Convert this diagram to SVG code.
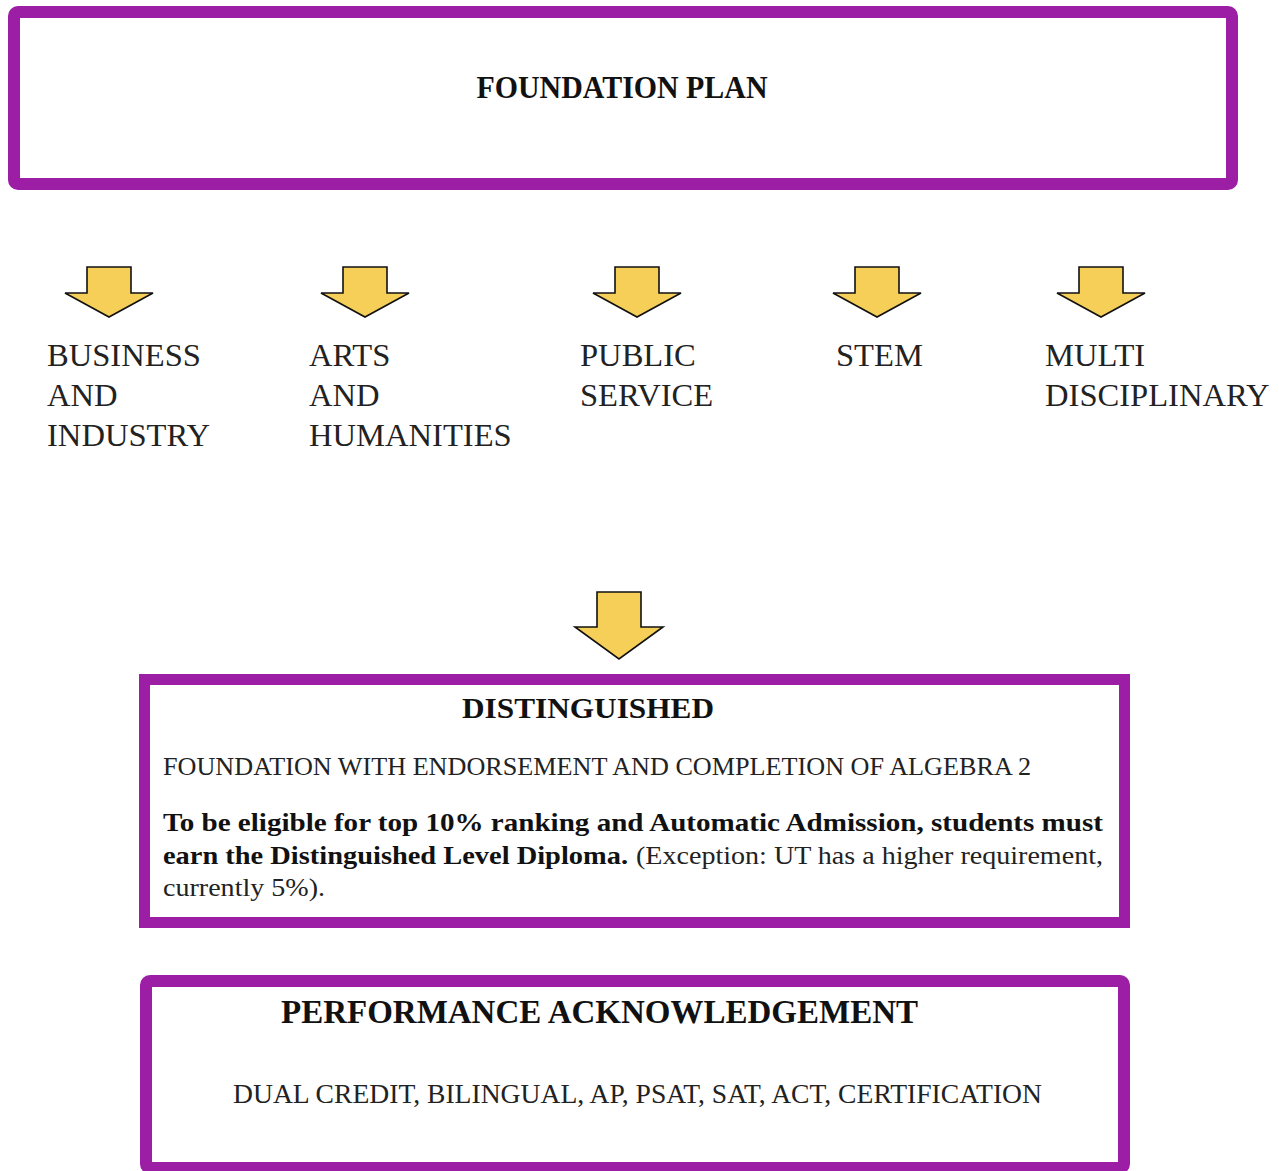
<svg xmlns="http://www.w3.org/2000/svg" width="1279" height="1171" viewBox="0 0 1279 1171">
<defs>
<style>
.box{fill:#fff;stroke:#9c1ea5;}
.arr{fill:#f5cf58;stroke:#111;stroke-width:1.6;stroke-linejoin:miter;}
.t{font-family:"Liberation Serif","Times New Roman",serif;fill:#222;}
.b{font-weight:bold;fill:#111;}
.lab{font-size:32.6px;}
</style>
</defs>
<rect width="1279" height="1171" fill="#fff"/>
<g id="foundation">
<rect class="box" x="14" y="12" width="1218" height="172" rx="4" stroke-width="12"/>
<text class="t b" x="622" y="98" font-size="31" text-anchor="middle" textLength="291" lengthAdjust="spacingAndGlyphs">FOUNDATION PLAN</text>
</g>
<g id="connectors">
<polygon class="arr" points="87,267 131,267 131,293 153,293 109,317 65,293 87,293"/>
<polygon class="arr" points="343,267 387,267 387,293 409,293 365,317 321,293 343,293"/>
<polygon class="arr" points="615,267 659,267 659,293 681,293 637,317 593,293 615,293"/>
<polygon class="arr" points="855,267 899,267 899,293 921,293 877,317 833,293 855,293"/>
<polygon class="arr" points="1079,267 1123,267 1123,293 1145,293 1101,317 1057,293 1079,293"/>
<polygon class="arr" points="597,592 641,592 641,627 663,627 619,659 575,627 597,627"/>
</g>
<g id="business">
<text class="t lab" x="47" y="366">BUSINESS</text>
<text class="t lab" x="47" y="406">AND</text>
<text class="t lab" x="47" y="446">INDUSTRY</text>
</g>
<g id="arts">
<text class="t lab" x="309" y="366">ARTS</text>
<text class="t lab" x="309" y="406">AND</text>
<text class="t lab" x="309" y="446">HUMANITIES</text>
</g>
<g id="public">
<text class="t lab" x="580" y="366">PUBLIC</text>
<text class="t lab" x="580" y="406">SERVICE</text>
</g>
<g id="stem">
<text class="t lab" x="836" y="366">STEM</text>
</g>
<g id="multi">
<text class="t lab" x="1045" y="366">MULTI</text>
<text class="t lab" x="1045" y="406">DISCIPLINARY</text>
</g>
<g id="distinguished">
<rect class="box" x="144.5" y="679.5" width="980" height="243" stroke-width="11"/>
<text class="t b" x="462" y="718" font-size="30" textLength="252" lengthAdjust="spacingAndGlyphs">DISTINGUISHED</text>
<text class="t" x="163" y="775" font-size="25" textLength="868" lengthAdjust="spacingAndGlyphs">FOUNDATION WITH ENDORSEMENT AND COMPLETION OF ALGEBRA 2</text>
<text class="t b" x="163" y="831" font-size="25" textLength="940" lengthAdjust="spacingAndGlyphs">To be eligible for top 10% ranking and Automatic Admission, students must</text>
<text class="t b" x="163" y="864" font-size="25" textLength="465" lengthAdjust="spacingAndGlyphs">earn the Distinguished Level Diploma.</text>
<text class="t" x="636" y="864" font-size="25" textLength="467" lengthAdjust="spacingAndGlyphs">(Exception: UT has a higher requirement,</text>
<text class="t" x="163" y="896" font-size="25" textLength="162" lengthAdjust="spacingAndGlyphs">currently 5%).</text>
</g>
<g id="performance">
<rect class="box" x="146" y="981" width="978" height="187" rx="4" stroke-width="12"/>
<text class="t b" x="281" y="1023" font-size="33" textLength="637" lengthAdjust="spacingAndGlyphs">PERFORMANCE ACKNOWLEDGEMENT</text>
<text class="t" x="233" y="1103" font-size="27" textLength="809" lengthAdjust="spacingAndGlyphs">DUAL CREDIT, BILINGUAL, AP, PSAT, SAT, ACT, CERTIFICATION</text>
</g>
</svg>
